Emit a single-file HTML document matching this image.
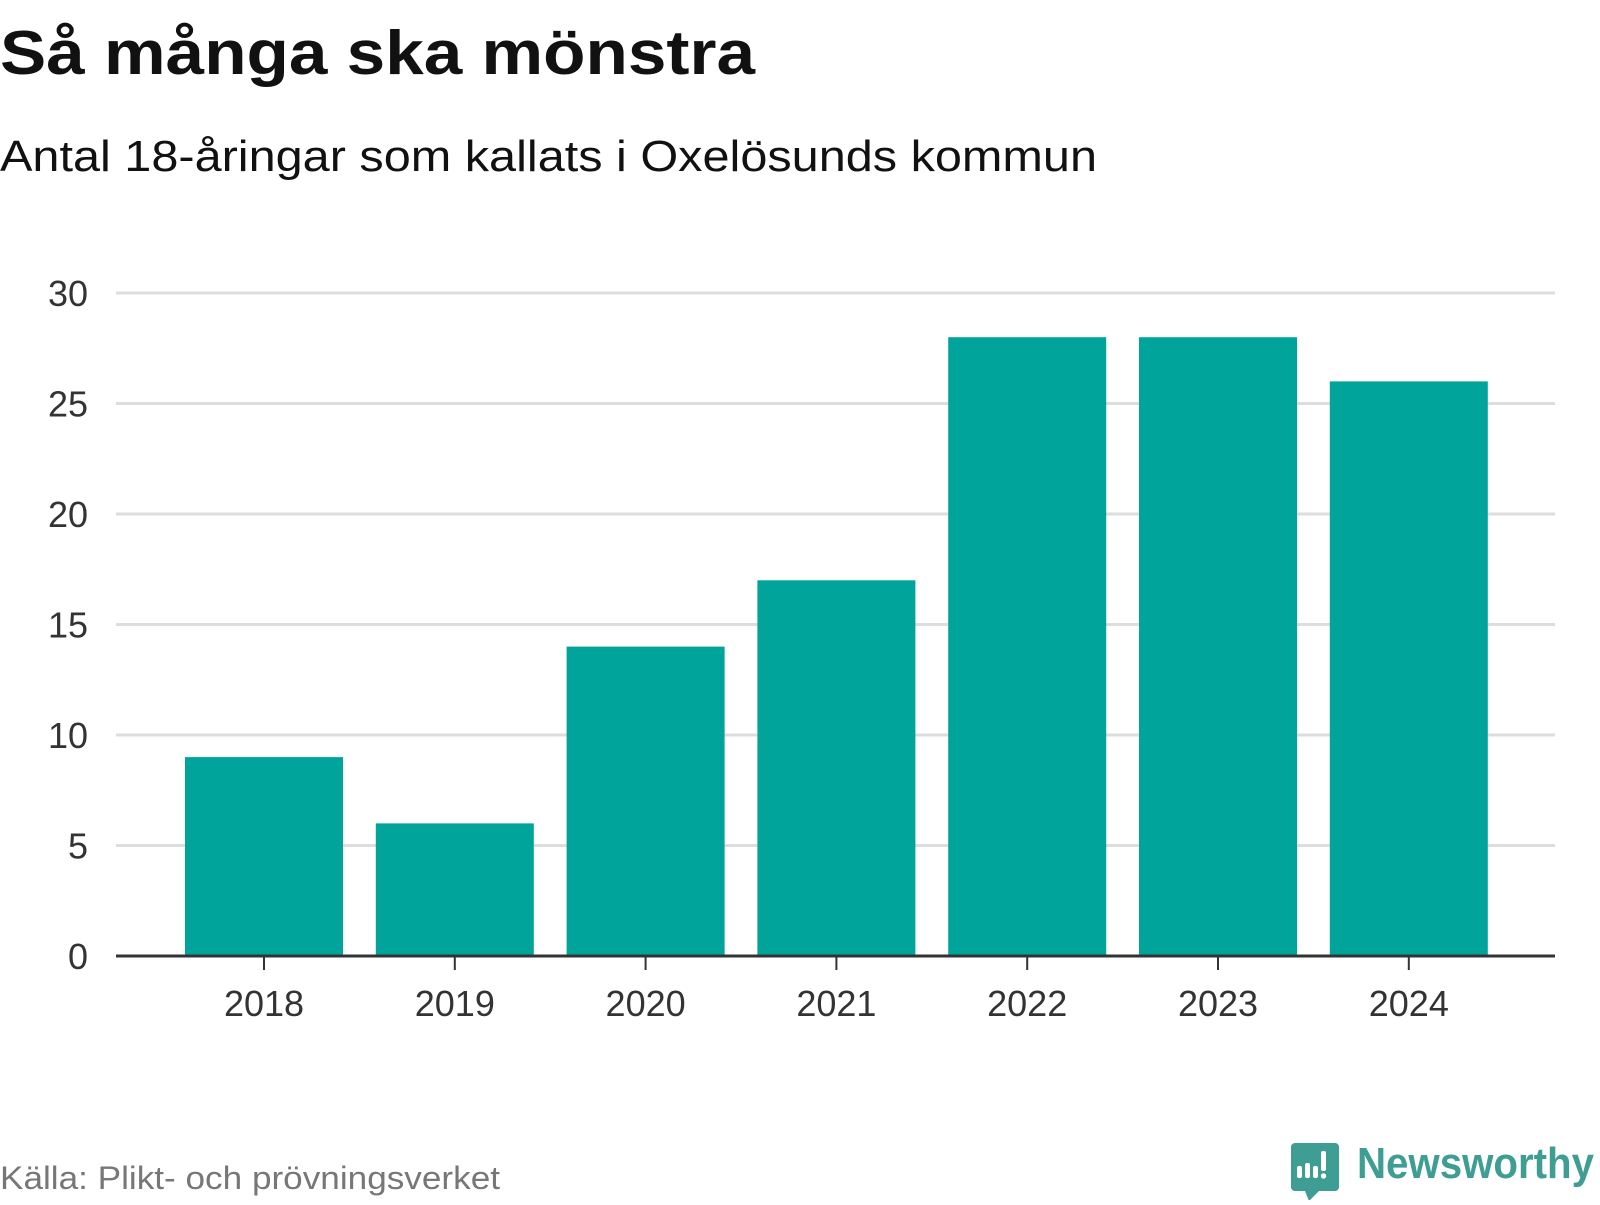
<!DOCTYPE html>
<html><head><meta charset="utf-8"><style>
body{margin:0;background:#fff;width:1600px;height:1200px;overflow:hidden;font-family:"Liberation Sans",sans-serif}
</style></head><body>
<svg width="1600" height="1200">
<text x="0" y="74" font-size="62" font-weight="bold" fill="#111" textLength="755" lengthAdjust="spacingAndGlyphs">Så många ska mönstra</text>
<text x="0" y="171" font-size="44" fill="#111" textLength="1097" lengthAdjust="spacingAndGlyphs">Antal 18-åringar som kallats i Oxelösunds kommun</text>
<g id="grid"></g><g id="bars"></g><g id="axis"></g>
<text x="0" y="1189" font-size="32" fill="#777" textLength="500" lengthAdjust="spacingAndGlyphs">Källa: Plikt- och prövningsverket</text>
<g transform="translate(0,3)">
<path d="M1295 1140 h40 a4 4 0 0 1 4 4 v40 a4 4 0 0 1 -4 4 h-16 l-10 10 l-4 -10 h-10 a4 4 0 0 1 -4 -4 v-40 a4 4 0 0 1 4 -4z" fill="#3f9e94"/>
<rect x="1297" y="1163" width="5" height="12" rx="2" fill="#fff"/>
<rect x="1305" y="1160" width="5" height="15" rx="2" fill="#fff"/>
<rect x="1313" y="1163" width="5" height="12" rx="2" fill="#fff"/>
<rect x="1321" y="1148" width="5" height="20" rx="2" fill="#fff"/>
<circle cx="1323.5" cy="1173" r="2.7" fill="#fff"/>
</g>
<text x="1357" y="1178" font-size="44" font-weight="bold" fill="#3f9e94" textLength="237" lengthAdjust="spacingAndGlyphs">Newsworthy</text>
</svg>
<script>
const categories=["2018","2019","2020","2021","2022","2023","2024"];
const values=[9,6,14,17,28,28,26];
const yTicks=[0,5,10,15,20,25,30];
const ns="http://www.w3.org/2000/svg";
const y0=956,yScale=22.1;
const y=v=>y0-v*yScale;
const x=i=>264+i*190.8;
const bw=158;
function mk(t,a,p){const e=document.createElementNS(ns,t);for(const k in a)e.setAttribute(k,a[k]);p.appendChild(e);return e;}
const grid=document.getElementById('grid'),bars=document.getElementById('bars'),axis=document.getElementById('axis');
yTicks.forEach(t=>{
 if(t>0){const l=mk('line',{x1:116,x2:1555,y1:y(t),y2:y(t),stroke:'#ddd','stroke-width':3},grid);
 
 }
 const tx=mk('text',{x:88,y:y(t)+13,'font-size':36,fill:'#333','text-anchor':'end'},axis);
 tx.textContent=t;
 
 
});
values.forEach((v,i)=>{
 const r=mk('rect',{x:x(i)-bw/2,y:y(v),width:bw,height:v*yScale,fill:'#00a49a'},bars);
 
 
 const tk=mk('line',{x1:x(i),x2:x(i),y1:y0,y2:y0+14,stroke:'#333','stroke-width':2},axis);
 
 
 const lb=mk('text',{x:x(i),y:y0+60,'font-size':36,fill:'#333','text-anchor':'middle'},axis);
 lb.textContent=categories[i];
 
 
});
const ax=mk('line',{x1:116,x2:1555,y1:y0,y2:y0,stroke:'#333','stroke-width':3},axis);


</script>
</body></html>
